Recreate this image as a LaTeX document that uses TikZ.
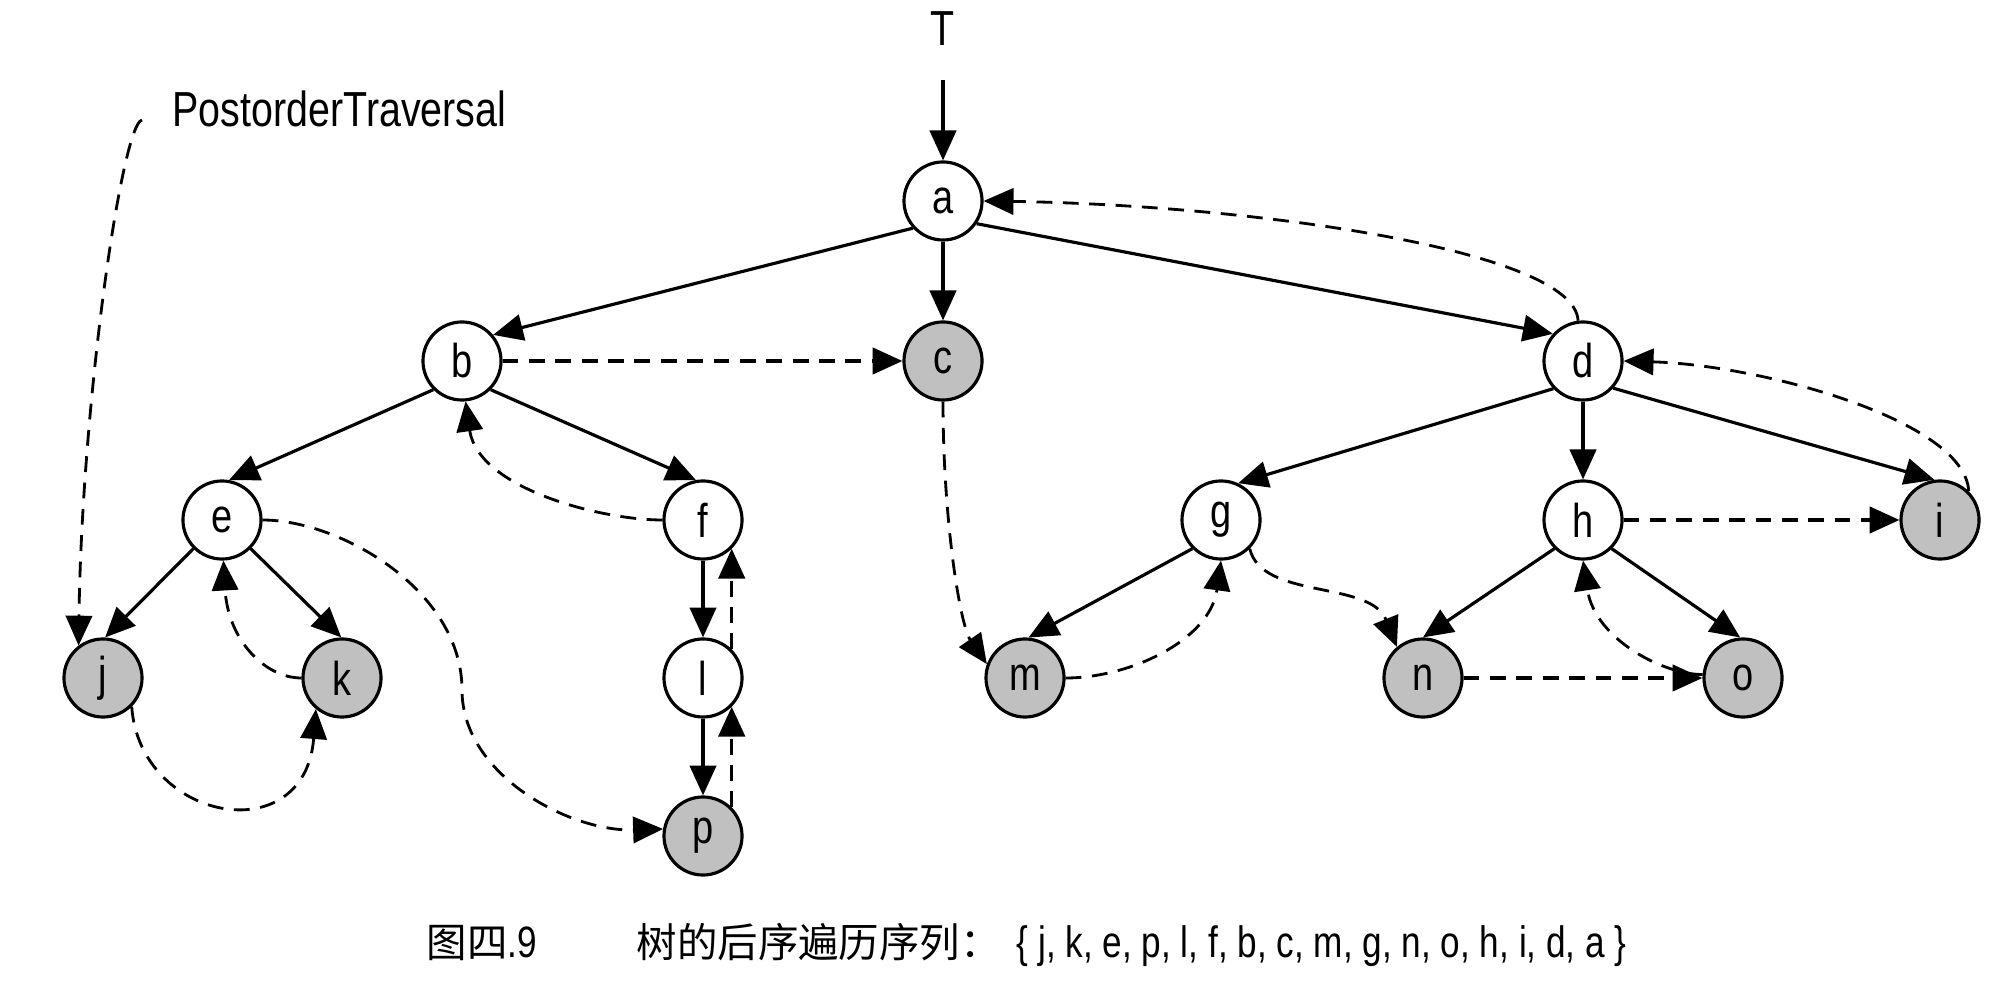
\documentclass[tikz,border=0pt]{standalone}
\usepackage{fontspec}
\setmainfont[FakeStretch=0.8]{Liberation Sans}
\newfontfamily\cjkfont{Noto Sans CJK SC}
\usetikzlibrary{arrows.meta}
\definecolor{leafgray}{RGB}{192,192,192}

\begin{document}
\begin{tikzpicture}[x=0.01cm,y=-0.01cm,
    vtx/.style={circle,draw,line width=0.9pt,fill=white,minimum size=0.78cm,inner sep=0pt,font=\fontsize{13.5}{16}\selectfont},
    leaf/.style={vtx,fill=leafgray},
    tree/.style={line width=0.9pt,-{Triangle[length=8.5pt,width=7.5pt]}},
    thread/.style={tree,line width=0.8pt,dash pattern=on 4.5pt off 3pt},
    lbl/.style={inner sep=0pt,font=\fontsize{14}{16}\selectfont}]
  \useasboundingbox (0,0) rectangle (2004,986);
  % inner nodes, then leaves
  \foreach \n/\x/\y in {a/943/201, b/462/361, d/1583/361, e/222/520, f/703/520, g/1221/520, h/1583/520, l/703/678}
    \node[vtx] (\n) at (\x,\y) {\n};
  \foreach \n/\x/\y in {c/943/361, i/1940/520, j/103/678, k/342/678, m/1025/678, n/1423/678, o/1743/678, p/703/836}
    \node[leaf] (\n) at (\x,\y) {\n};
  \node[lbl] (T) at (943,29) {T};
  \node[lbl,anchor=base west] (travlabel) at (172,127) {PostorderTraversal};
  \coordinate (tstart) at (142,120);
  % tree edges
  \draw[tree,shorten <=0.33cm] (T) -- (a);
  \foreach \u/\su/\v/\ev in {a/222/b/40, a/270/c/90, a/-34/d/138, b/225/e/80, b/-45/f/100,
      d/223/g/65, d/270/h/90, d/-42/i/98, e/225/j/87, e/-45/k/91, f/270/l/90, l/270/p/90,
      g/225/m/85, h/225/n/90, h/-45/o/94}
    \draw[tree] (\u.\su) -- (\v.\ev);
  % postorder thread
  \draw[thread] (tstart) .. controls (122,124) and (82,400) .. (j.127);
  \draw[thread] (j.-45) .. controls (140,822) and (305,852) .. (k.230);
  \draw[thread] (k.west) .. controls (265,678) and (228,640) .. (e.-88);
  \draw[thread] (e.east) .. controls (340,520) and (462,590) .. (462,690) .. controls (462,775) and (570,832) .. (p.170);
  \draw[thread,line width=1pt] (p.45) -- (l.-45);
  \draw[thread,line width=1pt] (l.45) -- (f.-45);
  \draw[thread] (f.west) .. controls (600,520) and (478,488) .. (b.-85);
  \draw[thread,line width=1pt] (b) -- (c);
  \draw[thread] (c.south) .. controls (943,520) and (960,625) .. (m.160);
  \draw[thread] (m.east) .. controls (1130,678) and (1210,640) .. (g.-90);
  \draw[thread] (g.-45) .. controls (1262,600) and (1370,580) .. (n.130);
  \draw[thread,line width=1pt] (n) -- (o);
  \draw[thread] (o.175) .. controls (1665,675) and (1595,640) .. (h.-90);
  \draw[thread,line width=1pt] (h) -- (i);
  \draw[thread] (i.45) .. controls (1965,420) and (1760,365) .. (d.east);
  \draw[thread] (d.97) .. controls (1575,250) and (1250,205) .. (a.east);
  % caption
  \node[inner sep=0pt,anchor=base west] (fignum) at (426,957) {{\cjkfont\fontsize{11.5}{14}\selectfont 图四}{\fontsize{12.5}{14}\selectfont .9}};
  \node[inner sep=0pt,anchor=base west] (captext) at (636,957) {\cjkfont\fontsize{11.5}{14}\selectfont 树的后序遍历序列：};
  \node[inner sep=0pt,anchor=base west] (seq) at (1016,957) {\fontsize{12.5}{14}\selectfont \{ j, k, e, p, l, f, b, c, m, g, n, o, h, i, d, a \}};
\end{tikzpicture}
\end{document}
